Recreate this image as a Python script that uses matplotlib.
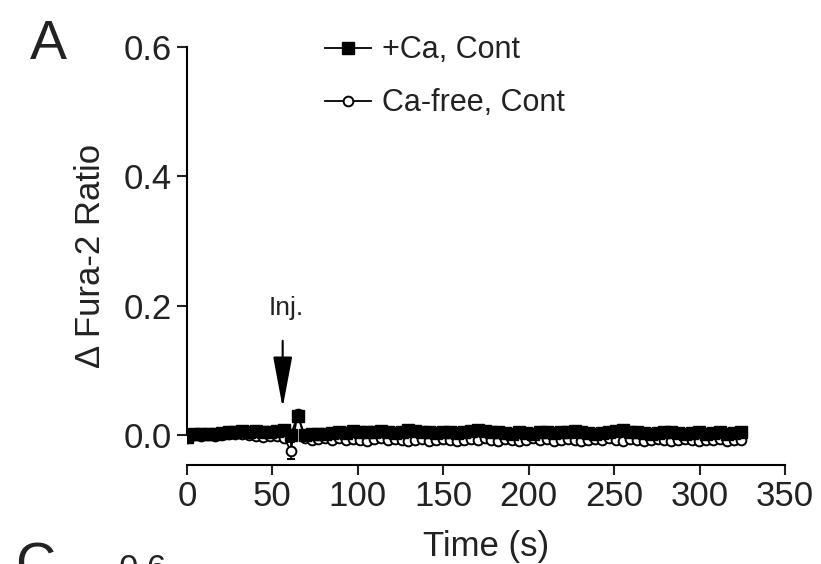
import numpy as np
from matplotlib import pyplot as plt
from matplotlib.lines import Line2D

plt.rcParams['font.family'] = ['Liberation Sans', 'DejaVu Sans']

# time points (s)
time = np.linspace(0, 324, 81)

ca_cont = [-0.003, 0.002, 0.001, 0.002, 0.001, 0.003, 0.004, 0.005,
           0.006, 0.005, 0.006, 0.004, 0.005, 0.006, 0.007,
           0.000, 0.030,
           0.000, 0.001, 0.002, 0.001, 0.003, 0.004, 0.003, 0.006,
           0.005, 0.004, 0.005, 0.006, 0.004, 0.003, 0.005, 0.007,
           0.006, 0.005, 0.004, 0.003, 0.004, 0.005, 0.003, 0.004,
           0.006, 0.008, 0.006, 0.005, 0.004, 0.003, 0.002, 0.004,
           0.003, 0.002, 0.004, 0.005, 0.003, 0.004, 0.005, 0.006,
           0.004, 0.003, 0.002, 0.003, 0.004, 0.006, 0.007, 0.005,
           0.004, 0.003, 0.002, 0.003, 0.004, 0.005, 0.003, 0.002,
           0.003, 0.004, 0.002, 0.003, 0.004, 0.002, 0.003, 0.004]
ca_cont_err = [0.004, 0.003, 0.003, 0.003, 0.003, 0.003, 0.003, 0.003,
               0.003, 0.003, 0.003, 0.003, 0.003, 0.003, 0.003,
               0.004, 0.004,
               0.004, 0.004, 0.004, 0.004, 0.004, 0.004, 0.004, 0.004,
               0.004, 0.004, 0.004, 0.004, 0.004, 0.004, 0.004, 0.004,
               0.004, 0.004, 0.004, 0.004, 0.004, 0.004, 0.004, 0.004,
               0.004, 0.004, 0.004, 0.004, 0.004, 0.004, 0.004, 0.004,
               0.004, 0.004, 0.004, 0.004, 0.004, 0.004, 0.004, 0.004,
               0.004, 0.004, 0.004, 0.004, 0.004, 0.004, 0.004, 0.004,
               0.004, 0.004, 0.004, 0.004, 0.004, 0.004, 0.004, 0.004,
               0.004, 0.004, 0.004, 0.004, 0.004, 0.004, 0.004, 0.004]

cafree_cont = [-0.004, 0.000, -0.001, 0.000, -0.002, 0.000, 0.001, 0.002,
               0.001, 0.000, -0.002, -0.003, -0.002, -0.001, -0.004,
               -0.024, 0.032,
               -0.005, -0.008, -0.006, -0.004, -0.007, -0.005, -0.008, -0.006,
               -0.007, -0.009, -0.006, -0.005, -0.008, -0.006, -0.007, -0.010,
               -0.008, -0.006, -0.009, -0.007, -0.006, -0.008, -0.010, -0.007,
               -0.006, -0.008, -0.005, -0.007, -0.009, -0.006, -0.008, -0.010,
               -0.007, -0.005, -0.008, -0.006, -0.009, -0.007, -0.006, -0.008,
               -0.010, -0.007, -0.006, -0.008, -0.005, -0.007, -0.009, -0.006,
               -0.008, -0.010, -0.007, -0.006, -0.008, -0.009, -0.007, -0.006,
               -0.008, -0.010, -0.007, -0.008, -0.006, -0.009, -0.008, -0.007]
cafree_cont_err = [0.003, 0.003, 0.003, 0.003, 0.003, 0.003, 0.003, 0.003,
                   0.003, 0.003, 0.003, 0.003, 0.003, 0.003, 0.003,
                   0.013, 0.004,
                   0.003, 0.003, 0.003, 0.003, 0.003, 0.003, 0.003, 0.003,
                   0.003, 0.003, 0.003, 0.003, 0.003, 0.003, 0.003, 0.003,
                   0.003, 0.003, 0.003, 0.003, 0.003, 0.003, 0.003, 0.003,
                   0.003, 0.003, 0.003, 0.003, 0.003, 0.003, 0.003, 0.003,
                   0.003, 0.003, 0.003, 0.003, 0.003, 0.003, 0.003, 0.003,
                   0.003, 0.003, 0.003, 0.003, 0.003, 0.003, 0.003, 0.003,
                   0.003, 0.003, 0.003, 0.003, 0.003, 0.003, 0.003, 0.003,
                   0.003, 0.003, 0.003, 0.003, 0.003, 0.003, 0.003, 0.003]

fig = plt.figure(figsize=(8.21, 5.64), dpi=100)
ax = fig.add_axes([187 / 821, 99 / 564, 598 / 821, 418 / 564])

ax.errorbar(time, cafree_cont, yerr=cafree_cont_err, fmt='-o', color='black',
            mfc='white', mec='black', mew=1.4, ms=7, lw=1.3, capsize=3,
            elinewidth=1.3, zorder=2)
ax.errorbar(time, ca_cont, yerr=ca_cont_err, fmt='-s', color='black',
            mfc='black', mec='black', ms=8, lw=1.3, capsize=3,
            elinewidth=1.3, zorder=3)

ax.set_xlim(0, 350)
ax.set_ylim(-0.0464, 0.6)
ax.set_xticks([0, 50, 100, 150, 200, 250, 300, 350])
ax.set_yticks([0.0, 0.2, 0.4, 0.6])
ax.set_yticklabels(['0.0', '0.2', '0.4', '0.6'])
ax.spines['top'].set_visible(False)
ax.spines['right'].set_visible(False)
ax.spines['left'].set_bounds(0, 0.6)
for s in ['left', 'bottom']:
    ax.spines[s].set_linewidth(1.5)
ax.tick_params(direction='out', length=7, width=1.5, labelsize=25, pad=4,
               colors='#222222')
ax.set_xlabel('Time (s)', fontsize=25, labelpad=12, color='#222222')
ax.set_ylabel('\u0394 Fura-2 Ratio', fontsize=25, labelpad=12, color='#222222')

ax.annotate('', xy=(56, 0.038), xytext=(56, 0.15),
            arrowprops=dict(arrowstyle='-|>,head_length=1.6,head_width=0.3',
                            color='black', lw=1.5, mutation_scale=20))
ax.text(58, 0.197, 'Inj.', fontsize=19, ha='center', va='center',
        color='#222222')

handles = [Line2D([], [], color='black', marker='s', ms=8, lw=1.3),
           Line2D([], [], color='black', marker='o', mfc='white', ms=7,
                  mew=1.4, lw=1.3)]
labels = ['+Ca, Cont', 'Ca-free, Cont']
fig.legend(handles, labels, loc='upper left',
           bbox_to_anchor=(310 / 821, 1 - 20 / 564), frameon=False,
           fontsize=22, handlelength=1.5, handletextpad=0.35,
           labelspacing=0.75, labelcolor='#222222', borderpad=0)

fig.text(30 / 821, 1 - 45 / 564, 'A', fontsize=40, va='center',
         color='#222222')
fig.text(15 / 821, -30 / 564, 'C', fontsize=40, va='bottom',
         color='#222222')
fig.text(143 / 821, -22 / 564, '0.6', fontsize=25, ha='center', va='bottom',
         color='#222222')

fig.savefig('out.png', dpi=100)
